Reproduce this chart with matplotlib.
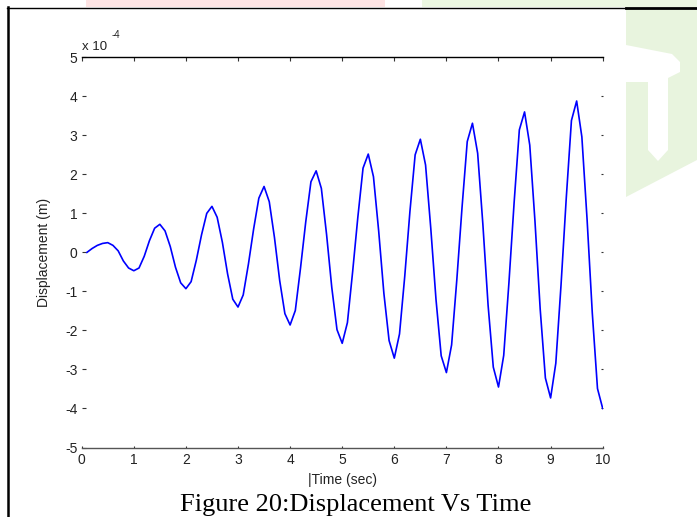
import matplotlib
matplotlib.use("Agg")
import matplotlib.pyplot as plt
from matplotlib.patches import Polygon
from matplotlib.lines import Line2D

# time samples (sec) and displacement (x 1e-4 m)
time = [round(0.1 * k, 1) for k in range(1, 101)]
disp = [
    0.00, 0.10, 0.18, 0.23, 0.25, 0.18, 0.04, -0.22, -0.40, -0.47,
    -0.40, -0.10, 0.30, 0.62, 0.72, 0.55, 0.15, -0.38, -0.78, -0.93,
    -0.75, -0.20, 0.45, 1.00, 1.18, 0.90, 0.26, -0.55, -1.20, -1.40,
    -1.09, -0.30, 0.60, 1.39, 1.69, 1.30, 0.38, -0.72, -1.57, -1.86,
    -1.49, -0.40, 0.78, 1.81, 2.09, 1.64, 0.46, -0.90, -1.98, -2.33,
    -1.80, -0.50, 0.90, 2.16, 2.52, 1.94, 0.55, -1.05, -2.26, -2.71,
    -2.09, -0.62, 1.05, 2.50, 2.90, 2.24, 0.62, -1.20, -2.65, -3.08,
    -2.37, -0.70, 1.15, 2.84, 3.31, 2.54, 0.72, -1.35, -2.94, -3.45,
    -2.64, -0.78, 1.28, 3.14, 3.60, 2.75, 0.80, -1.45, -3.22, -3.73,
    -2.84, -0.84, 1.38, 3.38, 3.88, 2.96, 0.85, -1.55, -3.49, -4.00,
]
xticks = list(range(0, 11))
yticks = list(range(-5, 6))

W, H = 697, 517
fig = plt.figure(figsize=(W / 100, H / 100), dpi=100)


def px(x, y):
    return (x / W, 1 - y / H)


# page decorations around the figure (scanned document look)
fig.add_artist(Polygon([px(86, 0), px(385, 0), px(385, 7), px(86, 7)],
                       closed=True, transform=fig.transFigure,
                       facecolor="#fde3e3", edgecolor="none"))
fig.add_artist(Polygon([px(422, 0), px(697, 0), px(697, 7), px(422, 7)],
                       closed=True, transform=fig.transFigure,
                       facecolor="#ecf7e2", edgecolor="none"))
fig.add_artist(Polygon([px(626, 9), px(697, 9), px(697, 160), px(626, 197)],
                       closed=True, transform=fig.transFigure,
                       facecolor="#e8f4de", edgecolor="none"))
fig.add_artist(Polygon([px(626, 45), px(672, 54), px(680, 62), px(680, 72),
                        px(668, 78), px(668, 150), px(658, 161), px(648, 150),
                        px(648, 82), px(626, 82)],
                       closed=True, transform=fig.transFigure,
                       facecolor="white", edgecolor="none"))
fig.add_artist(Line2D([8 / W, 8 / W], [1 - 7 / H, 0], transform=fig.transFigure,
                      color="black", lw=1.8))
fig.add_artist(Line2D([7 / W, 626 / W], [1 - 7.5 / H] * 2, transform=fig.transFigure,
                      color="black", lw=1.0))
fig.add_artist(Line2D([626 / W, 1], [1 - 8 / H] * 2, transform=fig.transFigure,
                      color="black", lw=2.0))

# axes
ax = fig.add_axes([81.7 / W, 1 - 447.5 / H, 521 / W, 390.2 / H])
ax.plot(time, disp, color="#0000ff", lw=1.2)

ax.set_xlim(0, 10)
ax.set_ylim(-5, 5)
ax.set_xticks(xticks)
ax.set_yticks(yticks)
ax.set_xticklabels([str(v) for v in xticks])
ax.set_yticklabels([str(v) for v in yticks])

for side in ["left", "right"]:
    ax.spines[side].set_visible(False)
ax.spines["top"].set_color("black")
ax.spines["top"].set_linewidth(1.0)
ax.spines["bottom"].set_color("#555555")
ax.spines["bottom"].set_linewidth(1.0)

ax.tick_params(direction="in", length=3, width=0.8, colors="#333333",
               top=True, right=True, labelsize=10)
ax.tick_params(axis="x", pad=4)
ax.tick_params(axis="y", pad=3)
for t in ax.yaxis.get_major_ticks():
    t.tick2line.set_markersize(1.5)
    t.tick2line.set_color("#777777")
for t in ax.xaxis.get_major_ticks():
    t.tick1line.set_markersize(1.5)
    t.tick1line.set_color("#777777")
for lab in ax.get_xticklabels() + ax.get_yticklabels():
    lab.set_fontfamily("Liberation Sans")
    lab.set_color("#222222")

ax.set_xlabel("|Time (sec)", fontsize=10, family="Liberation Sans", color="#222222")
ax.set_ylabel("Displacement (m)", fontsize=10, family="Liberation Sans", color="#222222")
ax.xaxis.set_label_coords(0.5, -0.065)
ax.yaxis.set_label_coords(-0.059, 0.5)

# exponent marker at the top of the y axis
ax.text(0.0, 1.019, "x 10", transform=ax.transAxes, fontsize=9.5,
        family="Liberation Sans", color="#222222", ha="left", va="baseline")
ax.text(0.058, 1.05, "-4", transform=ax.transAxes, fontsize=7,
        family="Liberation Sans", color="#222222", ha="left", va="baseline")

# caption of the document
fig.text(355.5 / W, 1 - 511 / H, "Figure 20:Displacement Vs Time",
         fontsize=19, family="Liberation Serif", color="black",
         ha="center", va="baseline")

fig.savefig("out.png", dpi=100)
